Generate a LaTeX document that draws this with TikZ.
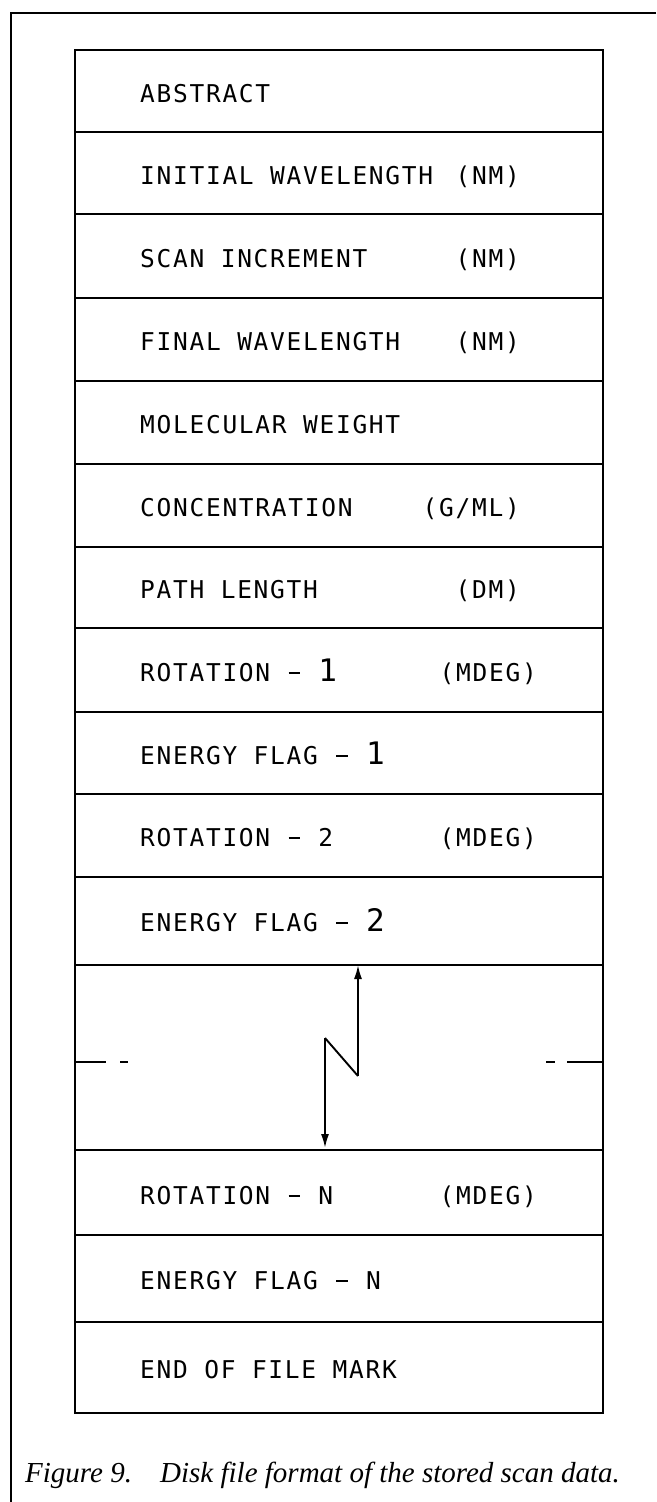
\documentclass[tikz,border=0pt]{standalone}
\usepackage{fontspec}
\usetikzlibrary{arrows.meta}
\newfontfamily\lblfont[LetterSpace=7]{DejaVu Sans Mono}
\newfontfamily\capfont{Liberation Serif}
\tikzset{
  rowbox/.style={draw, line width=1.6pt, minimum width=528pt, inner sep=0pt, anchor=north west},
  lbl/.style={anchor=base west, inner sep=0pt, font=\lblfont\fontsize{24.5}{28}\selectfont},
  unitlbl/.style={lbl, anchor=base east},
  zig/.style={line width=1.9pt},
  brk/.style={line width=1.6pt},
  tip/.style={-{Latex[length=14pt,width=8pt]}},
  captxt/.style={anchor=base west, inner sep=0pt, font=\capfont\itshape\fontsize{29}{34}\selectfont}
}
\newcommand{\bigdig}[1]{{\fontsize{31}{31}\selectfont #1}}
\newcommand{\dsh}{\makebox[0.62em]{\rule[0.3em]{0.46em}{0.085em}}}
\begin{document}
\begin{tikzpicture}[x=1pt,y=-1pt]
\useasboundingbox (0,0) rectangle (656,1502);
% outer frame
\draw[line width=1.3pt] (656,13) -- (11,13) -- (11,1502);
% rows
\node[rowbox, minimum height=82pt] (r1) at (74,49) {};
\node[rowbox, minimum height=82pt] (r2) at (74,131) {};
\node[rowbox, minimum height=84pt] (r3) at (74,213) {};
\node[rowbox, minimum height=83pt] (r4) at (74,297) {};
\node[rowbox, minimum height=83pt] (r5) at (74,380) {};
\node[rowbox, minimum height=83pt] (r6) at (74,463) {};
\node[rowbox, minimum height=81pt] (r7) at (74,546) {};
\node[rowbox, minimum height=84pt] (r8) at (74,627) {};
\node[rowbox, minimum height=82pt] (r9) at (74,711) {};
\node[rowbox, minimum height=83pt] (r10) at (74,793) {};
\node[rowbox, minimum height=88pt] (r11) at (74,876) {};
\node[rowbox, minimum height=185pt] (r12) at (74,964) {};
\node[rowbox, minimum height=85pt] (r13) at (74,1149) {};
\node[rowbox, minimum height=87pt] (r14) at (74,1234) {};
\node[rowbox, minimum height=91pt] (r15) at (74,1321) {};
% labels
\node[lbl] (t1) at (140,102) {ABSTRACT};
\node[lbl] (t2) at (140,184) {INITIAL WAVELENGTH};
\node[unitlbl] (u2) at (520,184) {(NM)};
\node[lbl] (t3) at (140,267) {SCAN INCREMENT};
\node[unitlbl] (u3) at (520,267) {(NM)};
\node[lbl] (t4) at (140,350) {FINAL WAVELENGTH};
\node[unitlbl] (u4) at (520,350) {(NM)};
\node[lbl] (t5) at (140,433) {MOLECULAR WEIGHT};
\node[lbl] (t6) at (140,516) {CONCENTRATION};
\node[unitlbl] (u6) at (520,516) {(G/ML)};
\node[lbl] (t7) at (140,598) {PATH LENGTH};
\node[unitlbl] (u7) at (520,598) {(DM)};
\node[lbl] (t8) at (140,681) {ROTATION \dsh{} \bigdig{1}};
\node[unitlbl] (u8) at (537,681) {(MDEG)};
\node[lbl] (t9) at (140,764) {ENERGY FLAG \dsh{} \bigdig{1}};
\node[lbl] (t10) at (140,846) {ROTATION \dsh{} 2};
\node[unitlbl] (u10) at (537,846) {(MDEG)};
\node[lbl] (t11) at (140,931) {ENERGY FLAG \dsh{} \bigdig{2}};
\node[lbl] (t13) at (140,1204) {ROTATION \dsh{} N};
\node[unitlbl] (u13) at (537,1204) {(MDEG)};
\node[lbl] (t14) at (140,1289) {ENERGY FLAG \dsh{} N};
\node[lbl] (t15) at (140,1378) {END OF FILE MARK};
% break symbol
\coordinate (za) at (358,1076);
\coordinate (zb) at (325,1038);
\coordinate (ztop) at (358,965);
\coordinate (zbot) at (325,1148);
\draw[zig, tip] (za) -- (ztop);
\draw[zig] (za) -- (zb);
\draw[zig, tip] (zb) -- (zbot);
% dashed break marks
\coordinate (dl0) at (74,1062);
\coordinate (dl1) at (106,1062);
\coordinate (dl2) at (120,1062);
\coordinate (dl3) at (128,1062);
\coordinate (dr0) at (546,1062);
\coordinate (dr1) at (555,1062);
\coordinate (dr2) at (567,1062);
\coordinate (dr3) at (602,1062);
\draw[brk] (dl0) -- (dl1);
\draw[brk] (dl2) -- (dl3);
\draw[brk] (dr0) -- (dr1);
\draw[brk] (dr2) -- (dr3);
% caption
\node[captxt] (c1) at (25,1482) {Figure 9.};
\node[captxt] (c2) at (160,1482) {Disk file format of the stored scan data.};
\end{tikzpicture}
\end{document}
